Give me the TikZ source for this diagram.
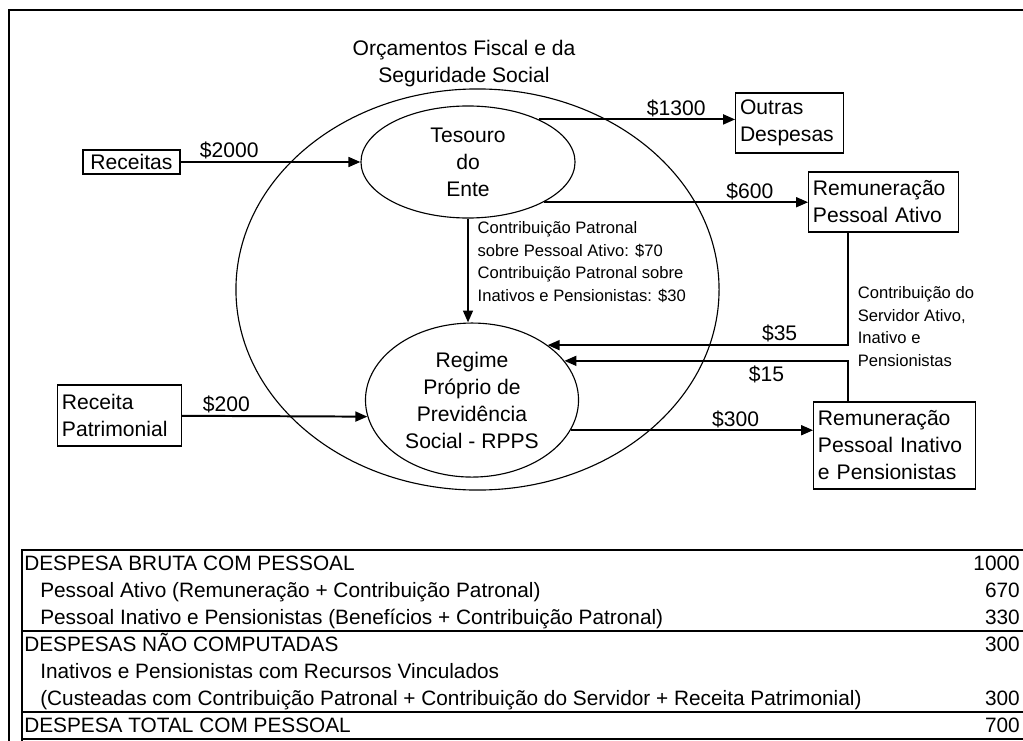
\documentclass[tikz,border=0pt]{standalone}
\usepackage{fontspec}
\setmainfont{Liberation Sans}
\usetikzlibrary{positioning, arrows.meta, shapes.geometric}

\begin{document}
\begin{tikzpicture}[x=0.025cm,y=-0.025cm,on grid,
  >={Triangle[length=8.5pt,width=7pt]},
  every node/.style={font=\fontsize{15}{19.2}\selectfont},
  small/.style={font=\fontsize{11.8}{16.1}\selectfont, align=left},
  pool/.style={draw, ellipse, line width=0.8pt, inner sep=0pt, align=center},
  box/.style={draw, line width=0.9pt, align=left, inner xsep=3pt, inner ysep=1pt},
  amt/.style={inner sep=1.2pt},
  flow/.style={->, line width=1.4pt},
  rule/.style={line width=1.8pt},
  row/.style={anchor=base west, inner sep=0pt, font=\fontsize{14.8}{19}\selectfont},
  num/.style={anchor=base east, inner sep=0pt, font=\fontsize{14.8}{19}\selectfont}]
  \useasboundingbox (0,0) rectangle (1023,741);
  % frame
  \draw[line width=1.2pt] (9,741) -- (9,10) -- (1023,10);

  % budgets
  \node[pool, minimum width=12.075cm, minimum height=10.025cm] (orc) at (477.5,289.5) {};
  \node[align=center] (tit) at (464,64) {Orçamentos Fiscal e da\\Seguridade Social};
  \node[pool, minimum width=5.35cm, minimum height=2.8cm] (tes) at (468,162) {Tesouro\\do\\Ente};
  \node[pool, minimum width=5.325cm, minimum height=3.85cm] (rpps) [below=5.95cm of tes, xshift=0.1cm] {Regime\\Próprio de\\Previdência\\Social - RPPS};

  % boxes
  \node[box, minimum width=2.425cm, minimum height=0.6cm, inner sep=0pt, align=center] (rec) at (131.5,162) {Receitas};
  \node[box, text width=2.475cm, minimum height=1.5cm] (out) at (789.5,123) {Outras\\Despesas};
  \node[box, text width=3.525cm, minimum height=1.5cm] (pa) at (883.5,202) {Remuneração\\Pessoal Ativo};
  \node[box, text width=3.825cm, minimum height=2.175cm] (pi) at (894.5,445.5) {Remuneração\\Pessoal Inativo\\e Pensionistas};
  \node[box, text width=2.875cm, minimum height=1.525cm] (rp) at (119.5,415.5) {Receita\\Patrimonial};

  % flows
  \path[flow, auto]
    (rec) edge node[amt, pos=0.27] {\$2000} (tes)
    (tes.31) edge node[amt, pos=0.7] {\$1300} (tes.31 -| out.west)
    (tes.-28) edge node[amt, pos=0.78] {\$600} (tes.-28 -| pa.west)
    (rp) edge node[amt, pos=0.24] {\$200} (rpps.189)
    (rpps.-17) edge node[amt, pos=0.68] {\$300} (rpps.-17 -| pi.west);
  \draw[flow] (tes.south) -- node[small, right, pos=0.42, xshift=0.1cm] {Contribuição Patronal\\sobre Pessoal Ativo: \$70\\Contribuição Patronal sobre\\Inativos e Pensionistas: \$30} (tes.south |- rpps.north);
  \draw[flow] (pa.south west) ++(40,0) |- node[small, right, pos=0.418, xshift=0.1cm] {Contribuição do\\Servidor Ativo,\\Inativo e\\Pensionistas} node[amt, above, pos=0.614] {\$35} (rpps.36);
  \draw[flow] (pi.north west) ++(35,0) |- node[amt, below, pos=0.644, inner sep=3pt] {\$15} (rpps.23);

  % table
  \draw[rule] (22,741) -- (22,550) -- (1030,550);
  \draw[rule] (22,631) -- (1030,631);
  \draw[rule] (22,712) -- (1030,712);
  \draw[rule] (22,739) -- (1030,739);
  \node[row] (r1) at (24,570.5) {DESPESA BRUTA COM PESSOAL};
  \node[row] (r2) at (40,597.5) {Pessoal Ativo (Remuneração + Contribuição Patronal)};
  \node[row] (r3) at (40,624.5) {Pessoal Inativo e Pensionistas (Benefícios + Contribuição Patronal)};
  \node[row] (r4) at (24,651.5) {DESPESAS NÃO COMPUTADAS};
  \node[row] (r5) at (40,678.5) {Inativos e Pensionistas com Recursos Vinculados};
  \node[row] (r6) at (40,705.5) {(Custeadas com Contribuição Patronal + Contribuição do Servidor + Receita Patrimonial)};
  \node[row] (r7) at (24,732.5) {DESPESA TOTAL COM PESSOAL};
  \node[num] (v1) at (1020,570.5) {1000};
  \node[num] (v2) at (1020,597.5) {670};
  \node[num] (v3) at (1020,624.5) {330};
  \node[num] (v4) at (1020,651.5) {300};
  \node[num] (v6) at (1020,705.5) {300};
  \node[num] (v7) at (1020,732.5) {700};
\end{tikzpicture}
\end{document}
